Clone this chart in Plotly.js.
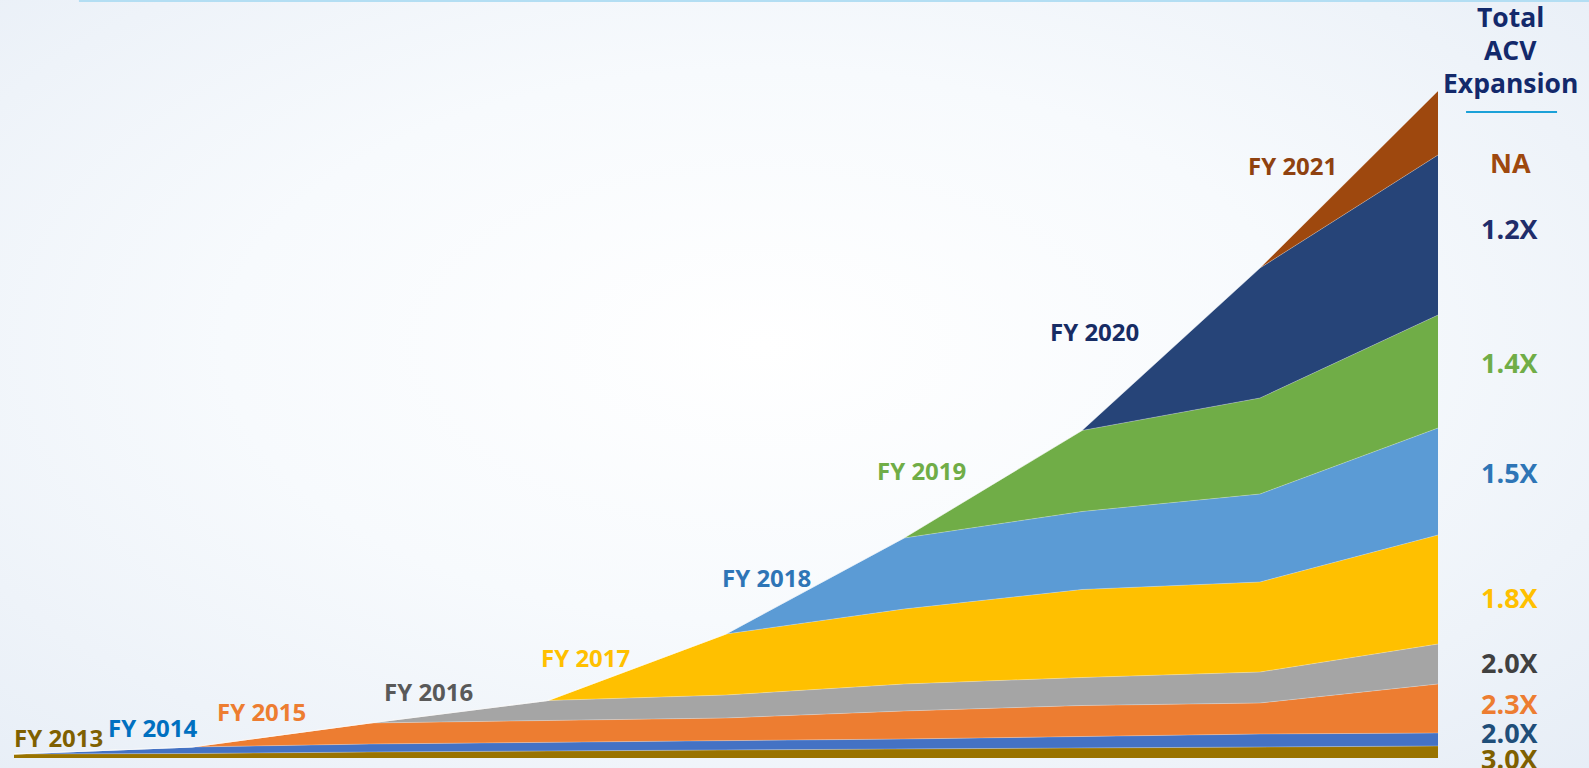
<!DOCTYPE html>
<html>
<head>
<meta charset="utf-8">
<script src="https://cdn.plot.ly/plotly-3.0.1.min.js"></script>
<style>
  html, body { margin: 0; padding: 0; }
  body {
    width: 1589px; height: 768px; overflow: hidden;
    background: radial-gradient(ellipse 75% 80% at 48% 45%, #ffffff 0%, #f7fafd 45%, #eef3f9 75%, #e6edf6 100%);
  }
  #chart { width: 1589px; height: 768px; }
</style>
</head>
<body>
<div id="chart"></div>
<script>
// fiscal years on the x axis (one point per year)
const years = ['FY 2013', 'FY 2014', 'FY 2015', 'FY 2016', 'FY 2017', 'FY 2018', 'FY 2019', 'FY 2020', 'FY 2021'];

// ACV of each cohort per year (null = cohort not yet started)
const fy2013 = [4, 4.5, 6, 7, 7.5, 8.5, 9.5, 11, 12];
const fy2014 = [0, 6.5, 8, 8.5, 9.5, 10.5, 12, 13, 13];
const fy2015 = [null, 0, 21, 22, 23, 28, 31, 31, 49];
const fy2016 = [null, null, 0, 20, 23, 27, 28, 31, 40];
const fy2017 = [null, null, null, 0, 61, 75, 88, 90, 109];
const fy2018 = [null, null, null, null, 0, 71, 78, 88, 107];
const fy2019 = [null, null, null, null, null, 0, 81, 96, 113];
const fy2020 = [null, null, null, null, null, null, 0, 130, 160];
const fy2021 = [null, null, null, null, null, null, null, 0, 64];

const cohorts = [fy2013, fy2014, fy2015, fy2016, fy2017, fy2018, fy2019, fy2020, fy2021];
const expansion = ['3.0X', '2.0X', '2.3X', '2.0X', '1.8X', '1.5X', '1.4X', '1.2X', 'NA'];
const headerLines = ['Total', 'ACV', 'Expansion'];

const fillColors = ['#997300', '#4472c4', '#ed7d31', '#a5a5a5', '#ffc000', '#5b9bd5', '#70ad47', '#264478', '#9e480e'];
const labelColors = ['#7f6000', '#0070c0', '#ed7d31', '#595959', '#ffc000', '#2e75b6', '#70ad47', '#172c64', '#8f4210'];
const expColors = ['#7f6000', '#1f4e79', '#ed7d31', '#404040', '#ffc000', '#2e75b6', '#70ad47', '#1f2d6b', '#9e480e'];

// label placement (x in category units, y in axis units)
const labelX = [0.25, 0.78, 1.39, 2.33, 3.21, 4.23, 5.1, 6.07, 7.18];
const labelY = [21, 31, 47, 67, 101, 181, 288, 427, 593];
// right column, in paper units
const expY = [-0.001, 0.033, 0.072, 0.126, 0.212, 0.377, 0.522, 0.699, 0.786];
const headerY = [0.977, 0.934, 0.890];

const traces = cohorts.map(function (vals, i) {
    const xs = [], ys = [];
    vals.forEach(function (v, j) {
        if (v !== null) { xs.push(years[j]); ys.push(v); }
    });
    return {
        x: xs,
        y: ys,
        name: years[i],
        type: 'scatter',
        mode: 'lines',
        stackgroup: 'acv',
        fillcolor: fillColors[i],
        line: { width: 0.6, color: 'rgba(255,255,255,0.45)' },
        hoverinfo: 'name+y'
    };
});

const font = '"Open Sans", Lato, sans-serif';
const colX = 1.0506;
const annotations = [];
years.forEach(function (y, i) {
    annotations.push({
        x: labelX[i], y: labelY[i], xref: 'x', yref: 'y', xanchor: 'center',
        text: '<b>' + y + '</b>', showarrow: false,
        font: { family: font, size: 24, color: labelColors[i] }
    });
    annotations.push({
        x: colX, y: expY[i], xref: 'paper', yref: 'paper', xanchor: 'center', yanchor: 'middle',
        text: '<b>' + expansion[i] + '</b>', showarrow: false,
        font: { family: font, size: 27, color: expColors[i] }
    });
});
headerLines.forEach(function (t, i) {
    annotations.push({
        x: colX, y: headerY[i], xref: 'paper', yref: 'paper', xanchor: 'center', yanchor: 'middle',
        text: '<b>' + t + '</b>', showarrow: false,
        font: { family: font, size: 26.5, color: '#13296b' }
    });
});

const layout = {
    width: 1589, height: 768,
    margin: { l: 14, r: 151, t: 0, b: 10 },
    paper_bgcolor: 'rgba(0,0,0,0)',
    plot_bgcolor: 'rgba(0,0,0,0)',
    showlegend: false,
    xaxis: { type: 'category', range: [0, 8], visible: false, fixedrange: true },
    yaxis: { range: [0, 758], visible: false, fixedrange: true },
    annotations: annotations,
    shapes: [
        { type: 'line', xref: 'paper', yref: 'paper', x0: 0.0456, x1: 1.11, y0: 0.9987, y1: 0.9987,
          line: { color: '#b3def3', width: 2 } },
        { type: 'line', xref: 'paper', yref: 'paper', x0: 1.0197, x1: 1.0836, y0: 0.8522, y1: 0.8522,
          line: { color: '#1ba1d8', width: 2 } }
    ]
};

Plotly.newPlot('chart', traces, layout, { displayModeBar: false, staticPlot: true });
</script>
</body>
</html>
